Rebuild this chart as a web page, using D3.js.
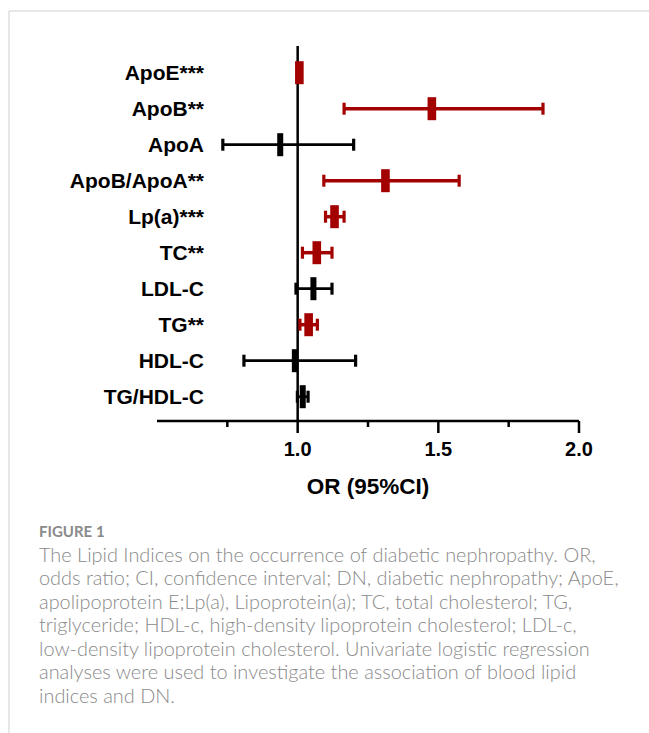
<!DOCTYPE html>
<html>
<head>
<meta charset="utf-8">
<script src="https://cdn.jsdelivr.net/npm/d3@7"></script>
<style>
  body { margin: 0; background: #fff; }
  svg { display: block; }
</style>
</head>
<body>
<svg id="chart" width="649" height="733"></svg>
<script>
// Datos del gráfico (OR e IC 95%)
const labels = ["ApoE***", "ApoB**", "ApoA", "ApoB/ApoA**", "Lp(a)***", "TC**", "LDL-C", "TG**", "HDL-C", "TG/HDL-C"];
const orValues = [1.006, 1.477, 0.938, 1.312, 1.131, 1.068, 1.056, 1.039, 0.990, 1.018];
const ciLow = [1.003, 1.165, 0.734, 1.093, 1.099, 1.017, 0.994, 1.008, 0.809, 0.999];
const ciHigh = [1.009, 1.872, 1.199, 1.574, 1.165, 1.122, 1.122, 1.070, 1.206, 1.037];
const significant = [true, true, false, true, true, true, false, true, false, false];
const majorTicks = [1.0, 1.5, 2.0];
const minorTicks = [0.75, 1.25, 1.75];
const axisTitle = "OR (95%CI)";
const figureLabel = "FIGURE 1";
const captionLines = [
    "The Lipid Indices on the occurrence of diabetic nephropathy. OR,",
    "odds ratio; CI, confidence interval; DN, diabetic nephropathy; ApoE,",
    "apolipoprotein E;Lp(a), Lipoprotein(a); TC, total cholesterol; TG,",
    "triglyceride; HDL-c, high-density lipoprotein cholesterol; LDL-c,",
    "low-density lipoprotein cholesterol. Univariate logistic regression",
    "analyses were used to investigate the association of blood lipid",
    "indices and DN."
];

const rows = labels.map((label, i) => ({
    label, or: orValues[i], lo: ciLow[i], hi: ciHigh[i], sig: significant[i]
}));

const svg = d3.select("#chart");
const RED = "#a30000";
const FONT = "'Liberation Sans', Arial, sans-serif";

// Marco gris de la figura
svg.append("line")
    .attr("x1", 9).attr("y1", 11).attr("x2", 649).attr("y2", 11)
    .attr("stroke", "#cfcfcf").attr("stroke-width", 1);
svg.append("line")
    .attr("x1", 9).attr("y1", 11).attr("x2", 9).attr("y2", 733)
    .attr("stroke", "#cfcfcf").attr("stroke-width", 1);

// Escalas
const x = d3.scaleLinear().domain([0.5, 2.0]).range([157, 579]);
const y = d3.scalePoint().domain(labels).range([72.7, 396.7]);
const axisY = 421;

const g = svg.append("g");

// Línea vertical de referencia (OR = 1)
g.append("line")
    .attr("x1", x(1)).attr("x2", x(1))
    .attr("y1", 46).attr("y2", axisY)
    .attr("stroke", "#000").attr("stroke-width", 2.5);

// Eje X
g.append("line")
    .attr("x1", x(0.5)).attr("x2", x(2.0))
    .attr("y1", axisY).attr("y2", axisY)
    .attr("stroke", "#000").attr("stroke-width", 2.5);

g.selectAll(".major")
    .data(majorTicks)
    .enter()
    .append("line")
    .attr("x1", d => x(d)).attr("x2", d => x(d))
    .attr("y1", axisY).attr("y2", axisY + 12)
    .attr("stroke", "#000").attr("stroke-width", 2.5);

g.selectAll(".minor")
    .data(minorTicks)
    .enter()
    .append("line")
    .attr("x1", d => x(d)).attr("x2", d => x(d))
    .attr("y1", axisY).attr("y2", axisY + 6)
    .attr("stroke", "#000").attr("stroke-width", 2.5);

g.selectAll(".tick-label")
    .data(majorTicks)
    .enter()
    .append("text")
    .attr("x", d => x(d))
    .attr("y", 456)
    .attr("text-anchor", "middle")
    .attr("font-family", FONT)
    .attr("font-weight", "bold")
    .attr("font-size", 20)
    .text(d => d3.format(".1f")(d));

g.append("text")
    .attr("x", (x(0.5) + x(2.0)) / 2)
    .attr("y", 494)
    .attr("text-anchor", "middle")
    .attr("font-family", FONT)
    .attr("font-weight", "bold")
    .attr("font-size", 22.5)
    .text(axisTitle);

// Etiquetas de las filas
g.selectAll(".row-label")
    .data(rows)
    .enter()
    .append("text")
    .attr("x", 204)
    .attr("y", d => y(d.label) + 7.5)
    .attr("text-anchor", "end")
    .attr("font-family", FONT)
    .attr("font-weight", "bold")
    .attr("font-size", 21)
    .text(d => d.label);

// Intervalos de confianza
const rowsG = g.selectAll(".row")
    .data(rows)
    .enter()
    .append("g")
    .attr("class", "row");

rowsG.append("line")
    .attr("x1", d => x(d.lo)).attr("x2", d => x(d.hi))
    .attr("y1", d => y(d.label)).attr("y2", d => y(d.label))
    .attr("stroke", d => d.sig ? RED : "#000")
    .attr("stroke-width", d => d.sig ? 3.5 : 2.8);

// Topes de los bigotes
[d => d.lo, d => d.hi].forEach(acc => {
    rowsG.append("line")
        .attr("x1", d => x(acc(d))).attr("x2", d => x(acc(d)))
        .attr("y1", d => y(d.label) - 6).attr("y2", d => y(d.label) + 6)
        .attr("stroke", d => d.sig ? RED : "#000")
        .attr("stroke-width", 3.2);
});

// Marcador del OR
rowsG.append("rect")
    .attr("x", d => x(d.or) - (d.sig ? 4.3 : 3))
    .attr("y", d => y(d.label) - 11.5)
    .attr("width", d => d.sig ? 8.6 : 6)
    .attr("height", 23)
    .attr("fill", d => d.sig ? RED : "#000");

// Pie de figura
svg.append("text")
    .attr("x", 39)
    .attr("y", 536.5)
    .attr("font-family", "Lato, 'Open Sans', sans-serif")
    .attr("font-weight", 700)
    .attr("font-size", 15)
    .attr("fill", "#8a8a8a")
    .text(figureLabel);

const caption = svg.append("text")
    .attr("font-family", "Lato, 'Open Sans', sans-serif")
    .attr("font-weight", 300)
    .attr("font-size", 16)
    .attr("fill", "#8a8a8a");

caption.selectAll("tspan")
    .data(captionLines)
    .enter()
    .append("tspan")
    .attr("x", 39)
    .attr("y", (d, i) => 561.7 + i * 23.5)
    .text(d => d);

// Ajustar el tamaño para que la primera línea mida como en la figura
const firstLen = caption.select("tspan").node().getComputedTextLength();
caption.attr("font-size", 16 * 557 / firstLen);
</script>
</body>
</html>
